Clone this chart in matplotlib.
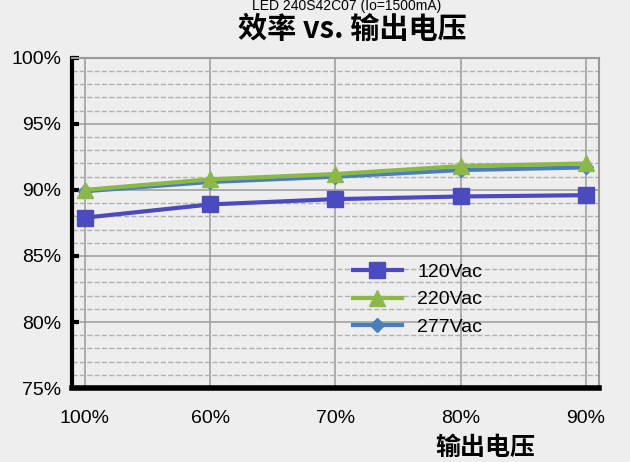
import matplotlib.pyplot as plt
from matplotlib.ticker import MultipleLocator, FuncFormatter

plt.rcParams['font.family'] = ['Liberation Sans', 'Noto Sans CJK SC', 'DejaVu Sans']

x_labels = ['100%', '60%', '70%', '80%', '90%']
v120 = [87.9, 88.9, 89.3, 89.5, 89.6]
v220 = [90.0, 90.8, 91.2, 91.8, 92.0]
v277 = [89.9, 90.6, 91.0, 91.5, 91.7]

x = list(range(len(x_labels)))

fig = plt.figure(figsize=(6.3, 4.62), dpi=100, facecolor='#eeeeee')
ax = fig.add_axes([0.115, 0.16, 0.835, 0.715], facecolor='#eeeeee')

ax.plot(x, v277, color='#4a7ebb', lw=3, marker='D', ms=7, label='277Vac', zorder=3)
ax.plot(x, v220, color='#8cb84a', lw=3, marker='^', ms=11, label='220Vac', zorder=4)
ax.plot(x, v120, color='#4b4bbf', lw=3, marker='s', ms=12, label='120Vac', zorder=5)

# axes formatting
ax.set_ylim(75, 100)
ax.set_xlim(-0.1, 4.1)
ax.yaxis.set_major_locator(MultipleLocator(5))
ax.yaxis.set_minor_locator(MultipleLocator(1))
ax.yaxis.set_major_formatter(FuncFormatter(lambda v, p: '%d%%' % v))
ax.set_xticks(x)
ax.set_xticklabels(x_labels)
ax.tick_params(axis='both', labelsize=14, colors='black')
ax.tick_params(axis='x', length=0, pad=16)
ax.tick_params(axis='y', which='major', length=5, width=3, direction='in', pad=8)
ax.tick_params(axis='y', which='minor', length=0)
ax.grid(axis='y', which='major', color='#a0a0a0', lw=1.2)
ax.grid(axis='y', which='minor', color='#b0b0b0', lw=1, ls='--')
ax.grid(axis='x', which='major', color='#a0a0a0', lw=1.2)

ax.spines['left'].set_linewidth(3)
ax.spines['bottom'].set_linewidth(4)
for s in ['top', 'right']:
    ax.spines[s].set_color('#999999')
    ax.spines[s].set_linewidth(1.5)

handles, labels = ax.get_legend_handles_labels()
ax.legend(handles[::-1], labels[::-1], loc='upper left', bbox_to_anchor=(0.5, 0.43),
          frameon=False, fontsize=14, handlelength=2.5, labelspacing=0.5)

fig.text(0.55, 0.988, 'LED 240S42C07 (Io=1500mA)', ha='center', va='center',
         fontsize=10, color='black')
fig.text(0.56, 0.937, '效率 vs. 输出电压', ha='center', va='center',
         fontsize=21, fontweight='bold',
         family=['Noto Sans CJK SC', 'DejaVu Sans'])
fig.text(0.77, 0.005, '输出电压', ha='center', va='bottom',
         fontsize=18, fontweight='bold',
         family=['Noto Sans CJK SC', 'DejaVu Sans'])

fig.savefig('out.png', dpi=100, facecolor=fig.get_facecolor())
